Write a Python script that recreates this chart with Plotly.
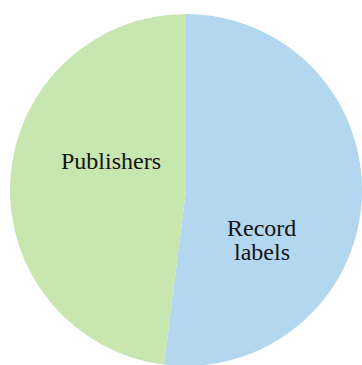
import plotly.graph_objects as go

# Data
labels = ["Record labels", "Publishers"]
values = [52, 48]
colors = ["#b3d7ef", "#c8e6af"]

W, H = 362, 366

fig = go.Figure(
    go.Pie(
        labels=labels,
        values=values,
        sort=False,
        direction="clockwise",
        rotation=0,
        marker=dict(colors=colors, line=dict(width=0)),
        textinfo="none",
        hoverinfo="label+percent",
        domain=dict(x=[10 / W, 362 / W],
                    y=[1 - 366 / H, 1 - 14 / H]),
        showlegend=False,
    )
)

# label line positions in screen px (center of each text line)
label_lines = {
    "Record labels": [(261.5, 227.5), (261.5, 251.5)],
    "Publishers": [(111, 161)],
}
for lab in labels:
    words = lab.split(" ") if len(label_lines[lab]) > 1 else [lab]
    for word, (px, py) in zip(words, label_lines[lab]):
        fig.add_annotation(
            x=px / W, y=1 - py / H, xref="paper", yref="paper",
            text=word,
            showarrow=False,
            font=dict(family="'Liberation Serif', 'DejaVu Serif', serif", size=24, color="#141414"),
            align="center",
            height=20,
            xanchor="center", yanchor="middle",
        )

fig.update_layout(
    width=W, height=H,
    margin=dict(l=0, r=0, t=0, b=0),
    paper_bgcolor="white",
    plot_bgcolor="white",
)

fig.write_html(
    "out.html",
    config={"displayModeBar": False},
    post_script="document.body.style.margin='0';document.body.style.overflow='hidden';",
)
